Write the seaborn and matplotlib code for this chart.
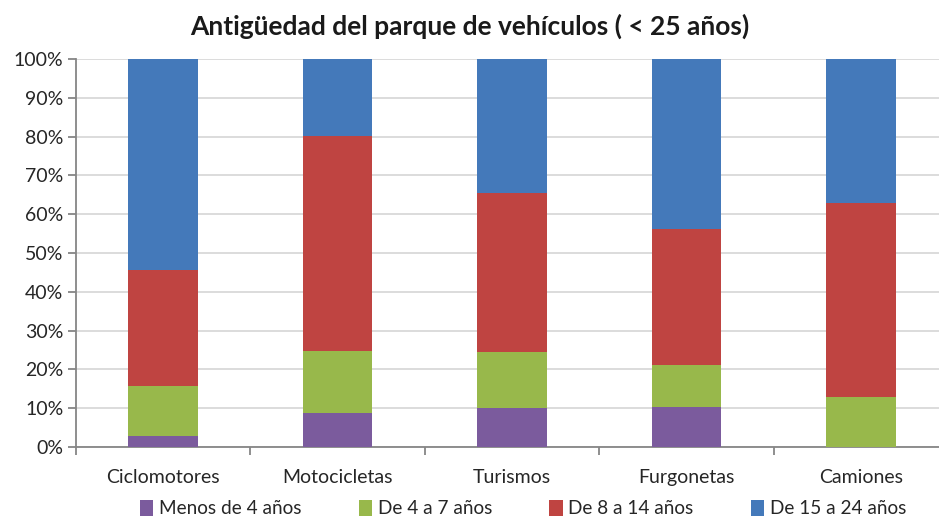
import numpy as np
import pandas as pd
import matplotlib
matplotlib.use("Agg")
import matplotlib.pyplot as plt
import seaborn as sns
from matplotlib.ticker import PercentFormatter, FixedLocator
from matplotlib.patches import Patch

# data (percent of each vehicle type)
categorias = ["Ciclomotores", "Motocicletas", "Turismos", "Furgonetas", "Camiones"]
series = ["Menos de 4 años", "De 4 a 7 años", "De 8 a 14 años", "De 15 a 24 años"]
menos_4 = [2.8, 8.7, 10.1, 10.4, 0.0]
de_4_7 = [12.9, 16.1, 14.5, 10.8, 13.0]
de_8_14 = [29.9, 55.4, 40.9, 34.9, 50.0]
de_15_24 = [54.4, 19.8, 34.5, 43.9, 37.0]
colores = ["#7B5B9D", "#98B84B", "#BF4441", "#4479BA"]

sns.set_theme(style="white")
plt.rcParams['font.family'] = ['Lato', 'DejaVu Sans']

fig = plt.figure(figsize=(9.39, 5.18), dpi=100)
ax = fig.add_axes([76/939, 71/518, 872/939, 388/518])

# stack the series with seaborn barplot, one layer per series
bottom = np.zeros(len(categorias))
for nombre, vals, col in zip(series, [menos_4, de_4_7, de_8_14, de_15_24], colores):
    df = pd.DataFrame({"cat": categorias, "val": vals})
    sns.barplot(data=df, x="cat", y="val", color=col, width=0.4, bottom=bottom,
                ax=ax, saturation=1, zorder=3, linewidth=0)
    bottom = bottom + np.array(vals)

ax.set_ylim(0, 100)
ax.set_xlim(-0.5, 4.5)
ax.yaxis.set_major_locator(FixedLocator(np.arange(0, 101, 10)))
ax.yaxis.set_major_formatter(PercentFormatter(decimals=0))
ax.grid(axis="y", color="#d9d9d9", linewidth=1.3, zorder=0)
ax.set_xlabel("")
ax.set_ylabel("")

for s in ["top", "right"]:
    ax.spines[s].set_visible(False)
for s in ["left", "bottom"]:
    ax.spines[s].set_color("#868686")
    ax.spines[s].set_linewidth(1.3)

ax.tick_params(axis="y", left=True, length=6, color="#868686", width=1.3,
               labelsize=14, labelcolor="#262626", pad=3)
ax.tick_params(axis="x", bottom=False, labelsize=14, labelcolor="#262626", pad=10)
ax.set_xticks(range(len(categorias)), categorias)
# small ticks between categories
ax.xaxis.set_minor_locator(FixedLocator(np.arange(-0.5, 5, 1)))
ax.tick_params(axis="x", which="minor", bottom=True, length=6, color="#868686", width=1.3)

fig.text(0.5, 0.95, "Antigüedad del parque de vehículos ( < 25 años)", ha="center",
         va="center", fontsize=19, fontweight="bold", color="#1a1a1a")

handles = [Patch(facecolor=c, edgecolor="none") for c in colores]
fig.legend(handles, series, loc="center", bbox_to_anchor=(0.557, 0.018), ncol=4,
           frameon=False, fontsize=13.7, handlelength=0.7, handleheight=0.9,
           handletextpad=0.3, columnspacing=3.0, labelcolor="#262626")

fig.savefig("out.png", dpi=100)
